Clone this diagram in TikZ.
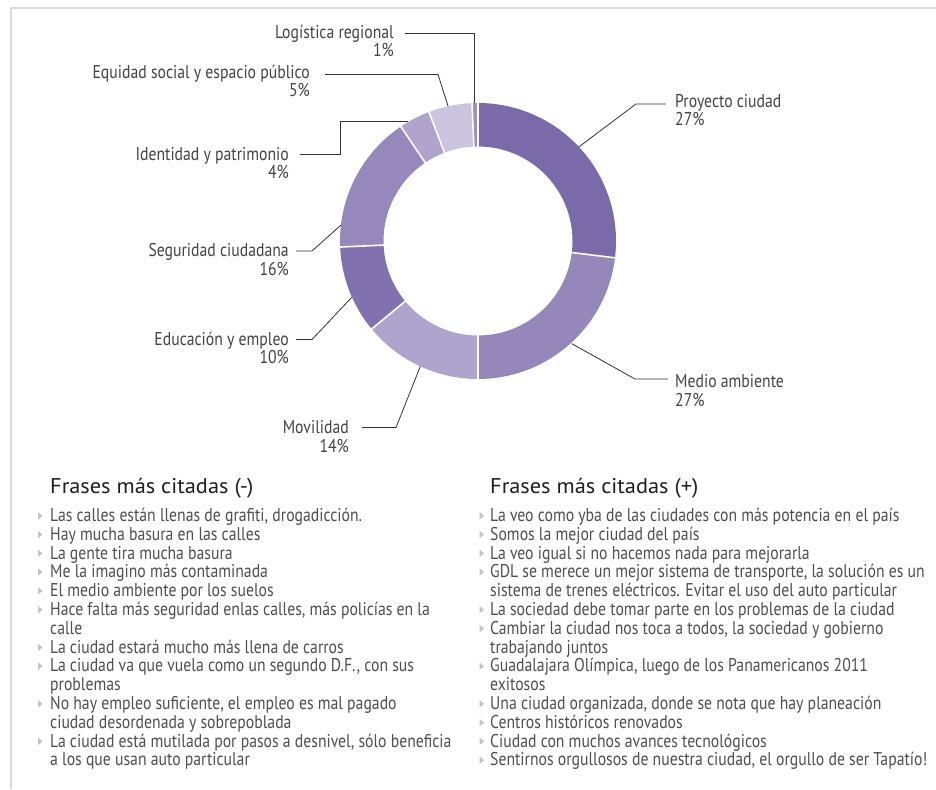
\documentclass[tikz,border=0pt]{standalone}
\usepackage{fontspec}
\setmainfont{PT Sans}[FakeStretch=0.85]
\newfontfamily\headfont{PT Sans}[FakeStretch=1.05]
\usetikzlibrary{calc}
\definecolor{cPro}{HTML}{7A6AAA}
\definecolor{cMed}{HTML}{9687BB}
\definecolor{cMov}{HTML}{AFA4CD}
\definecolor{cEdu}{HTML}{8172AF}
\definecolor{cSeg}{HTML}{9688BC}
\definecolor{cId}{HTML}{B0A4CD}
\definecolor{cEq}{HTML}{CAC4DF}
\definecolor{cLog}{HTML}{9D8FC0}
\definecolor{framegray}{HTML}{DCDCDC}
\definecolor{lblgray}{HTML}{444444}
\definecolor{listgray}{HTML}{4F4F4F}
\definecolor{bulgray}{HTML}{C4C4C4}
\definecolor{leadgray}{HTML}{333333}
\newcommand\ringseg[3]{\fill[#1] (#2:138) arc[start angle=#2,end angle=#3,radius=138] -- (#3:94.5) arc[start angle=#3,end angle=#2,radius=94.5] -- cycle;}
\begin{document}
\begin{tikzpicture}[x=1pt,y=1pt,
  lbl/.style={font=\fontsize{18.5}{18}\selectfont, text=lblgray, inner sep=0pt, text height=11, text depth=0},
  lblL/.style={lbl, anchor=base east},
  lblR/.style={lbl, anchor=base west},
  leader/.style={draw=leadgray, line width=0.8pt},
  listtxt/.style={font=\fontsize{18.5}{18.8}\selectfont, text=listgray, inner sep=0pt, anchor=base west},
  headtxt/.style={font=\headfont\fontsize{21.3}{24}\selectfont, text=black!88, inner sep=0pt, anchor=base west}]
\useasboundingbox (0,0) rectangle (936,-789);
\fill[white] (0,0) rectangle (936,-789);
% frame
\draw[framegray, line width=2pt] (10.5,-789) -- (10.5,-8.5) -- (936,-8.5);
% ring
\begin{scope}[shift={(478,-241)}]
\ringseg{cPro}{90}{-7}
\ringseg{cMed}{-7}{-90}
\ringseg{cMov}{-90}{-140.4}
\ringseg{cEdu}{-140.4}{-177.5}
\ringseg{cSeg}{-177.5}{-236}
\ringseg{cId}{-236}{-249.2}
\ringseg{cEq}{-249.2}{-267.5}
\ringseg{cLog}{-267.5}{-270}
\foreach \a in {90,-7,-90,-140.4,-177.5,-236,-249.2,-267.5}
  \draw[white, line width=1.6pt] (\a:93) -- (\a:140);
\coordinate (pLog) at (91.7:138);
\coordinate (pEq) at (102.5:138);
\coordinate (pId) at (120.3:138);
\coordinate (pSeg) at (173.4:138);
\coordinate (pEdu) at (204:138);
\coordinate (pMov) at (245.3:138);
\coordinate (pPro) at (43:138);
\coordinate (pMed) at (-47.6:139);
\end{scope}
% labels
\node[lblL] (lLog) at (394,-39) {Logística regional};
\node[lblL] (qLog) at (394,-57) {1\%};
\node[lblL] (lEq) at (310,-79) {Equidad social y espacio público};
\node[lblL] (qEq) at (310,-97) {5\%};
\node[lblL] (lId) at (289,-160) {Identidad y patrimonio};
\node[lblL] (qId) at (289,-178) {4\%};
\node[lblL] (lSeg) at (289,-256.5) {Seguridad ciudadana};
\node[lblL] (qSeg) at (289,-275) {16\%};
\node[lblL] (lEdu) at (289,-345) {Educación y empleo};
\node[lblL] (qEdu) at (289,-363) {10\%};
\node[lblL] (lMov) at (349,-433) {Movilidad};
\node[lblL] (qMov) at (349,-452) {14\%};
\node[lblR] (lPro) at (675,-107) {Proyecto ciudad};
\node[lblR] (qPro) at (675,-125) {27\%};
\node[lblR] (lMed) at (675,-387) {Medio ambiente};
\node[lblR] (qMed) at (675,-406) {27\%};
% leaders
\draw[leader] (lLog.east) ++(11,0) -| (pLog);
\draw[leader] (lEq.east) ++(15,-1) -- ++(113,0) -- (pEq);
\draw[leader] (lId.east) ++(11,0) -- ++(40,0) |- (pId);
\draw[leader] (lSeg.east) ++(7,0) -- ++(16,0) -- (pSeg);
\draw[leader] (lEdu.east) ++(7,0) -- ++(16,0) -- (pEdu);
\draw[leader] (lMov.east) ++(13,0) -- ++(34,0) -- (pMov);
\draw[leader] (lPro.west) ++(-9,-2.5) -- ++(-30,0) -- (pPro);
\draw[leader] (lMed.west) ++(-7,2.5) -- ++(-33,0) -- (pMed);
% headings
\node[headtxt] (hNeg) at (50,-493) {Frases más citadas (-)};
\node[headtxt] (hPos) at (490,-493) {Frases más citadas (+)};
% left list
\foreach \t [count=\k from 0] in {
  {Las calles están llenas de grafiti, drogadicción.},
  {Hay mucha basura en las calles},
  {La gente tira mucha basura},
  {Me la imagino más contaminada},
  {El medio ambiente por los suelos},
  {Hace falta más seguridad enlas calles, más policías en la},
  {calle},
  {La ciudad estará mucho más llena de carros},
  {La ciudad va que vuela como un segundo D.F., con sus},
  {problemas},
  {No hay empleo suficiente, el empleo es mal pagado},
  {ciudad desordenada y sobrepoblada},
  {La ciudad está mutilada por pasos a desnivel, sólo beneficia},
  {a los que usan auto particular}}
  \node[listtxt] (L\k) at (50,{-(521.5+18.8*\k)}) {\t};
\foreach \k in {0,1,2,3,4,5,7,8,10,12}
  \fill[bulgray] (38,{-(521.5+18.8*\k-9.5)}) -- ++(0,-7.5) -- ++(4.5,3.75) -- cycle;
% right list
\foreach \t [count=\k from 0] in {
  {La veo como yba de las ciudades con más potencia en el país},
  {Somos la mejor ciudad del país},
  {La veo igual si no hacemos nada para mejorarla},
  {GDL se merece un mejor sistema de transporte, la solución es un},
  {sistema de trenes eléctricos. Evitar el uso del auto particular},
  {La sociedad debe tomar parte en los problemas de la ciudad},
  {Cambiar la ciudad nos toca a todos, la sociedad y gobierno},
  {trabajando juntos},
  {Guadalajara Olímpica, luego de los Panamericanos 2011},
  {exitosos},
  {Una ciudad organizada, donde se nota que hay planeación},
  {Centros históricos renovados},
  {Ciudad con muchos avances tecnológicos},
  {Sentirnos orgullosos de nuestra ciudad, el orgullo de ser Tapatío!}}
  \node[listtxt] (R\k) at (490,{-(521.5+18.8*\k)}) {\t};
\foreach \k in {0,1,2,3,5,6,8,10,11,12,13}
  \fill[bulgray] (479.5,{-(521.5+18.8*\k-9.5)}) -- ++(0,-7.5) -- ++(4.5,3.75) -- cycle;
\end{tikzpicture}
\end{document}
